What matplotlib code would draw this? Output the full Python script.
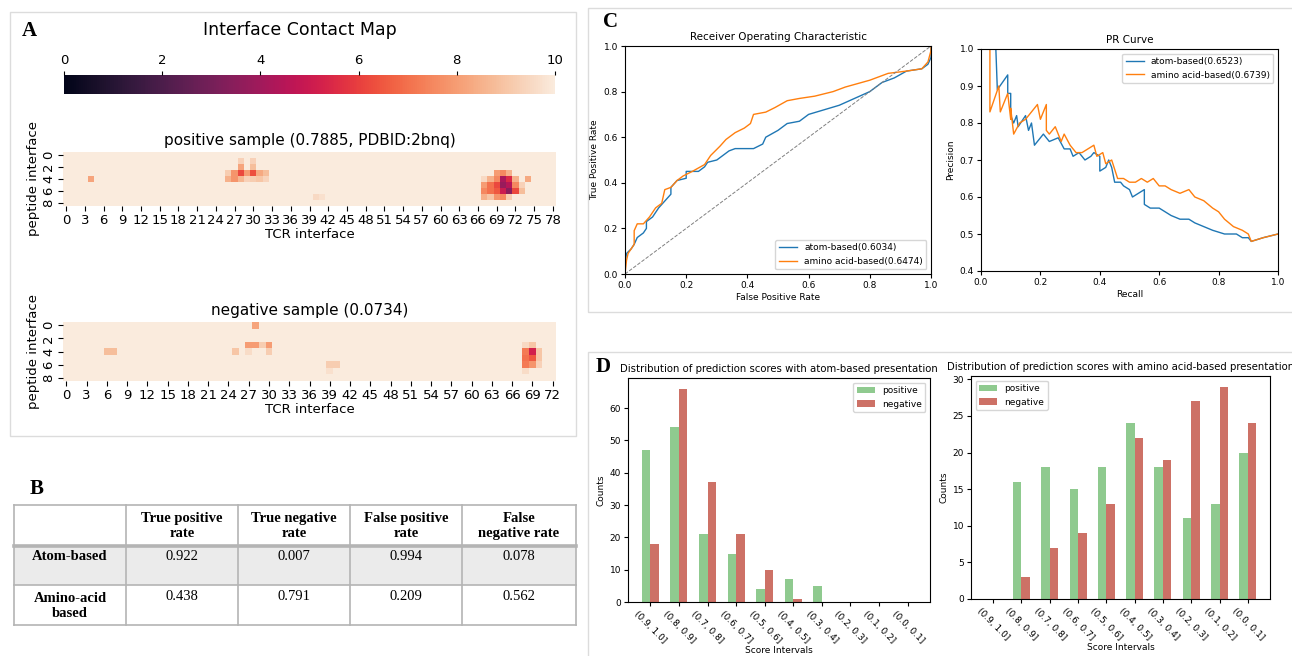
import numpy as np
import matplotlib.pyplot as plt
import seaborn as sns
from matplotlib.patches import Rectangle
from matplotlib.transforms import Bbox, TransformedBbox

W, H = 1292, 656

# ---------------- data ----------------
# panel A: interface contact maps, cells that differ from the background value (10)
pos_shape = (9, 79)
pos_cells = [
    (4, 4, 8.2),
    (1, 28, 9.3), (1, 30, 9.3),
    (2, 28, 8.2), (2, 30, 8.8),
    (3, 26, 9.2), (3, 27, 7.8), (3, 28, 6.2), (3, 29, 8.0), (3, 30, 6.3), (3, 31, 8.3), (3, 32, 8.8),
    (4, 26, 8.5), (4, 27, 7.8), (4, 28, 8.6), (4, 29, 9.3), (4, 30, 9.2), (4, 31, 9.0), (4, 32, 9.4),
    (7, 40, 9.5), (7, 41, 9.7),
    (3, 69, 8.0), (3, 70, 7.5), (3, 71, 8.5),
    (4, 67, 9.5), (4, 68, 8.5), (4, 69, 7.5), (4, 70, 4.2), (4, 71, 5.5), (4, 72, 8.5), (4, 74, 8.3),
    (5, 67, 8.0), (5, 68, 7.0), (5, 69, 6.2), (5, 70, 3.8), (5, 71, 4.5), (5, 72, 7.5), (5, 73, 9.3),
    (6, 67, 7.5), (6, 68, 7.0), (6, 69, 6.5), (6, 70, 5.0), (6, 71, 3.5), (6, 72, 6.2), (6, 73, 8.8),
    (7, 67, 8.5), (7, 68, 9.0), (7, 69, 7.8), (7, 70, 7.5), (7, 71, 9.2),
]
neg_shape = (9, 73)
neg_cells = [
    (0, 28, 8.2),
    (3, 27, 8.0), (3, 28, 8.0), (3, 29, 9.2), (3, 30, 8.0),
    (4, 6, 8.8), (4, 7, 8.8), (4, 25, 9.0), (4, 27, 9.6), (4, 30, 9.2),
    (6, 39, 9.2), (6, 40, 9.2), (7, 39, 9.7),
    (3, 68, 9.5), (3, 69, 9.0),
    (4, 68, 7.2), (4, 69, 5.2), (4, 70, 9.0),
    (5, 68, 7.0), (5, 69, 6.5), (5, 70, 9.0),
    (6, 68, 7.2), (6, 69, 7.8), (6, 70, 9.3),
    (7, 68, 9.6),
]

# panel B: table
tbl_header = ["", "True positive\nrate", "True negative\nrate", "False positive\nrate", "False\nnegative rate"]
tbl_rows = ["Atom-based", "Amino-acid\nbased"]
tbl_vals = [["0.922", "0.007", "0.994", "0.078"],
            ["0.438", "0.791", "0.209", "0.562"]]

# panel C: ROC curves
roc_atom_fpr = [0, 0, 0.005, 0.02, 0.03, 0.04, 0.06, 0.07, 0.07, 0.09, 0.11, 0.13, 0.15, 0.15, 0.17,
                0.2, 0.2, 0.24, 0.26, 0.27, 0.3, 0.32, 0.34, 0.36, 0.42, 0.45, 0.46, 0.5, 0.53,
                0.57, 0.6, 0.65, 0.7, 0.75, 0.8, 0.84, 0.88, 0.92, 0.97, 0.99, 1.0, 1.0]
roc_atom_tpr = [0, 0.05, 0.09, 0.11, 0.13, 0.16, 0.18, 0.2, 0.23, 0.25, 0.29, 0.32, 0.35, 0.38, 0.41,
                0.42, 0.45, 0.45, 0.47, 0.49, 0.5, 0.52, 0.54, 0.55, 0.55, 0.57, 0.6, 0.63, 0.66,
                0.67, 0.7, 0.72, 0.74, 0.77, 0.8, 0.84, 0.86, 0.89, 0.9, 0.92, 0.95, 1.0]
roc_aa_fpr = [0, 0.005, 0.01, 0.02, 0.03, 0.03, 0.04, 0.06, 0.08, 0.1, 0.12, 0.13, 0.15, 0.17, 0.19,
              0.22, 0.26, 0.28, 0.31, 0.33, 0.36, 0.39, 0.41, 0.42, 0.46, 0.49, 0.53, 0.57, 0.62,
              0.68, 0.72, 0.8, 0.86, 0.92, 0.97, 0.99, 1.0, 1.0]
roc_aa_tpr = [0, 0.06, 0.09, 0.11, 0.13, 0.19, 0.22, 0.22, 0.25, 0.29, 0.31, 0.37, 0.38, 0.41, 0.43,
              0.45, 0.48, 0.52, 0.56, 0.59, 0.62, 0.64, 0.66, 0.7, 0.71, 0.73, 0.76, 0.77, 0.78,
              0.8, 0.82, 0.85, 0.88, 0.89, 0.9, 0.93, 0.98, 1.0]

# panel C: PR curves
pr_atom_rec = [0.05, 0.05, 0.055, 0.09, 0.09, 0.1, 0.1, 0.11, 0.12, 0.125, 0.15, 0.16, 0.17, 0.18,
               0.21, 0.23, 0.26, 0.28, 0.3, 0.31, 0.33, 0.35, 0.37, 0.38, 0.4, 0.4, 0.42, 0.43,
               0.44, 0.45, 0.47, 0.48, 0.5, 0.51, 0.53, 0.55, 0.55, 0.57, 0.6, 0.64, 0.67, 0.7,
               0.72, 0.75, 0.78, 0.82, 0.86, 0.88, 0.9, 0.91, 0.95, 1.0]
pr_atom_prec = [1.05, 1.0, 0.89, 0.93, 0.88, 0.88, 0.82, 0.8, 0.82, 0.79, 0.82, 0.78, 0.8, 0.74,
                0.77, 0.75, 0.76, 0.73, 0.73, 0.71, 0.72, 0.7, 0.71, 0.72, 0.71, 0.67, 0.68, 0.7,
                0.68, 0.64, 0.64, 0.63, 0.62, 0.6, 0.61, 0.62, 0.58, 0.57, 0.57, 0.55, 0.54, 0.54,
                0.53, 0.52, 0.51, 0.5, 0.5, 0.49, 0.49, 0.48, 0.49, 0.5]
pr_aa_rec = [0.03, 0.03, 0.06, 0.065, 0.09, 0.1, 0.1, 0.11, 0.13, 0.15, 0.19, 0.2, 0.22, 0.22, 0.23,
             0.25, 0.27, 0.28, 0.3, 0.32, 0.34, 0.36, 0.38, 0.39, 0.41, 0.42, 0.44, 0.46, 0.48,
             0.5, 0.52, 0.54, 0.56, 0.58, 0.6, 0.62, 0.64, 0.67, 0.7, 0.72, 0.75, 0.78, 0.8,
             0.82, 0.85, 0.88, 0.9, 0.91, 0.95, 1.0]
pr_aa_prec = [1.05, 0.83, 0.9, 0.83, 0.88, 0.81, 0.84, 0.77, 0.8, 0.81, 0.85, 0.81, 0.85, 0.78, 0.77,
              0.79, 0.75, 0.77, 0.74, 0.72, 0.72, 0.73, 0.74, 0.71, 0.72, 0.69, 0.7, 0.65, 0.65,
              0.64, 0.64, 0.65, 0.64, 0.65, 0.63, 0.63, 0.62, 0.61, 0.62, 0.6, 0.59, 0.57, 0.56,
              0.54, 0.52, 0.51, 0.5, 0.48, 0.49, 0.5]

# panel D: score distributions
intervals = ["(0.9, 1.0]", "(0.8, 0.9]", "(0.7, 0.8]", "(0.6, 0.7]", "(0.5, 0.6]",
             "(0.4, 0.5]", "(0.3, 0.4]", "(0.2, 0.3]", "(0.1, 0.2]", "(0.0, 0.1]"]
atom_pos = [47, 54, 21, 15, 4, 7, 5, 0, 0, 0]
atom_neg = [18, 66, 37, 21, 10, 1, 0, 0, 0, 0]
aa_pos = [0, 16, 18, 15, 18, 24, 18, 11, 13, 20]
aa_neg = [0, 3, 7, 9, 13, 22, 19, 27, 29, 24]


def px(x0, y0, x1, y1):
    return [x0 / W, 1 - y1 / H, (x1 - x0) / W, (y1 - y0) / H]


fig = plt.figure(figsize=(W / 100, H / 100), dpi=100)
cmap = sns.color_palette("rocket", as_cmap=True)
serif = "Liberation Serif"

# panel frames
for x0, y0, x1, y1 in [(10, 12, 576, 436), (588, 8, 1300, 312), (588, 352, 1300, 660)]:
    fig.add_artist(Rectangle((x0 / W, 1 - y1 / H), (x1 - x0) / W, (y1 - y0) / H,
                             transform=fig.transFigure, fill=False, ec="#dcdcdc", lw=1))

# ---------------- panel A ----------------
fig.text(22 / W, 1 - 31 / H, "A", fontsize=15, fontweight="bold", family=serif, va="center")
fig.text(300 / W, 1 - 30 / H, "Interface Contact Map", fontsize=12.5, ha="center", va="center")


def contact_map(rect, shape, cells, title):
    ax = fig.add_axes(rect)
    m = np.full(shape, 10.0)
    for r, c, v in cells:
        m[r, c] = v
    mesh = ax.pcolormesh(np.arange(shape[1] + 1), np.arange(shape[0] + 1), m,
                         cmap=cmap, vmin=0, vmax=10)
    ax.set_ylim(shape[0], 0)
    ax.set_xticks(np.arange(0, shape[1], 3) + 0.5, [str(i) for i in range(0, shape[1], 3)])
    ax.set_yticks(np.arange(0, shape[0], 2) + 0.5, [str(i) for i in range(0, shape[0], 2)],
                  rotation=90, va="center")
    ax.tick_params(labelsize=9.5, length=3.5, pad=2)
    for s in ax.spines.values():
        s.set_visible(False)
    ax.set_title(title, fontsize=11, pad=5)
    ax.set_xlabel("TCR interface", fontsize=9.5, labelpad=1)
    ax.set_ylabel("peptide interface", fontsize=9.5, labelpad=2)
    return mesh


mesh = contact_map(px(63, 152, 556, 206), pos_shape, pos_cells, "positive sample (0.7885, PDBID:2bnq)")
contact_map(px(63, 322, 556, 381), neg_shape, neg_cells, "negative sample (0.0734)")

cax = fig.add_axes(px(64, 75, 555, 94))
cb = fig.colorbar(mesh, cax=cax, orientation="horizontal", ticks=[0, 2, 4, 6, 8, 10])
cb.outline.set_visible(False)
cax.xaxis.set_ticks_position("top")
cax.tick_params(labelsize=9.5, length=3, pad=3)

# ---------------- panel B ----------------
fig.text(30 / W, 1 - 489 / H, "B", fontsize=15, fontweight="bold", family=serif, va="center")
axB = fig.add_axes(px(14, 505, 576, 625))
axB.set_xlim(0, 562)
axB.set_ylim(120, 0)
axB.axis("off")
col_edges = [0, 112, 224, 336, 448, 562]
row_edges = [0, 41, 80, 120]
axB.add_patch(Rectangle((0, row_edges[1]), 562, row_edges[2] - row_edges[1], color="#ebebeb", lw=0))
for yv in row_edges:
    axB.plot([0, 562], [yv, yv], color="#b4b4b4", lw=2.6 if yv == 41 else 1.2, clip_on=False)
for xv in col_edges:
    axB.plot([xv, xv], [0, 120], color="#b4b4b4", lw=1.2, clip_on=False)
for j, h in enumerate(tbl_header):
    axB.text((col_edges[j] + col_edges[j + 1]) / 2, 21, h, ha="center", va="center",
             family=serif, fontweight="bold", fontsize=10.5, linespacing=1.25)
row_text_y = [52, 101]
for i, lab in enumerate(tbl_rows):
    axB.text(56, row_text_y[i], lab, ha="center", va="center", family=serif,
             fontweight="bold", fontsize=10.5, linespacing=1.25)
    for j, v in enumerate(tbl_vals[i]):
        axB.text((col_edges[j + 1] + col_edges[j + 2]) / 2, 52 if i == 0 else 91, v,
                 ha="center", va="center", family=serif, fontsize=10.5)

# ---------------- panel C ----------------
fig.text(603 / W, 1 - 22 / H, "C", fontsize=15, fontweight="bold", family=serif, va="center")
axR = fig.add_axes(px(625, 46, 931, 274))
axR.plot(roc_atom_fpr, roc_atom_tpr, color="#1f77b4", lw=1, label="atom-based(0.6034)")
axR.plot(roc_aa_fpr, roc_aa_tpr, color="#ff7f0e", lw=1, label="amino acid-based(0.6474)")
axR.plot([0, 1], [0, 1], color="gray", ls="--", lw=0.7)
axR.set_xlim(0, 1)
axR.set_ylim(0, 1)
axR.set_title("Receiver Operating Characteristic", fontsize=7.5, pad=4)
axR.set_xlabel("False Positive Rate", fontsize=6.5, labelpad=2)
axR.set_ylabel("True Positive Rate", fontsize=6.5, labelpad=3)
axR.tick_params(labelsize=6.5, length=3, pad=2)
axR.legend(loc="lower right", fontsize=6.5)

axP = fig.add_axes(px(981, 49, 1278, 271))
axP.plot(pr_atom_rec, pr_atom_prec, color="#1f77b4", lw=1, label="atom-based(0.6523)")
axP.plot(pr_aa_rec, pr_aa_prec, color="#ff7f0e", lw=1, label="amino acid-based(0.6739)")
axP.set_xlim(0, 1)
axP.set_ylim(0.4, 1.0)
axP.set_title("PR Curve", fontsize=7.5, pad=4)
axP.set_xlabel("Recall", fontsize=6.5, labelpad=2)
axP.set_ylabel("Precision", fontsize=6.5, labelpad=3)
axP.tick_params(labelsize=6.5, length=3, pad=2)
axP.legend(loc="upper right", fontsize=6.5)

# ---------------- panel D ----------------
fig.text(596 / W, 1 - 367 / H, "D", fontsize=15, fontweight="bold", family=serif, va="center")
green = "#8fca8f"
red = "#cd7166"
x = np.arange(len(intervals))
w = 0.3


def score_bars(rect, pos, neg, title, loc):
    ax = fig.add_axes(rect)
    ax.bar(x - w / 2, pos, w, color=green, label="positive")
    ax.bar(x + w / 2, neg, w, color=red, label="negative")
    ax.set_xticks(x, intervals, rotation=-45)
    t = ax.set_title(title, fontsize=7.3, pad=4)
    ax.set_xlabel("Score Intervals", fontsize=6.5, labelpad=1)
    ax.set_ylabel("Counts", fontsize=6.5, labelpad=3)
    ax.tick_params(labelsize=6.5, length=3, pad=2)
    ax.legend(loc=loc, fontsize=6.5)
    return ax, t


axL, tL = score_bars(px(628, 378, 930, 602), atom_pos, atom_neg,
                     "Distribution of prediction scores with atom-based presentation", "upper right")
tL.set_clip_box(TransformedBbox(Bbox([[0, 0], [939 / W, 1]]), fig.transFigure))
tL.set_clip_on(True)
axRt, tR = score_bars(px(971, 376, 1270, 599), aa_pos, aa_neg,
                      "Distribution of prediction scores with amino acid-based presentation", "upper left")

fig.savefig("out.png", dpi=100)
